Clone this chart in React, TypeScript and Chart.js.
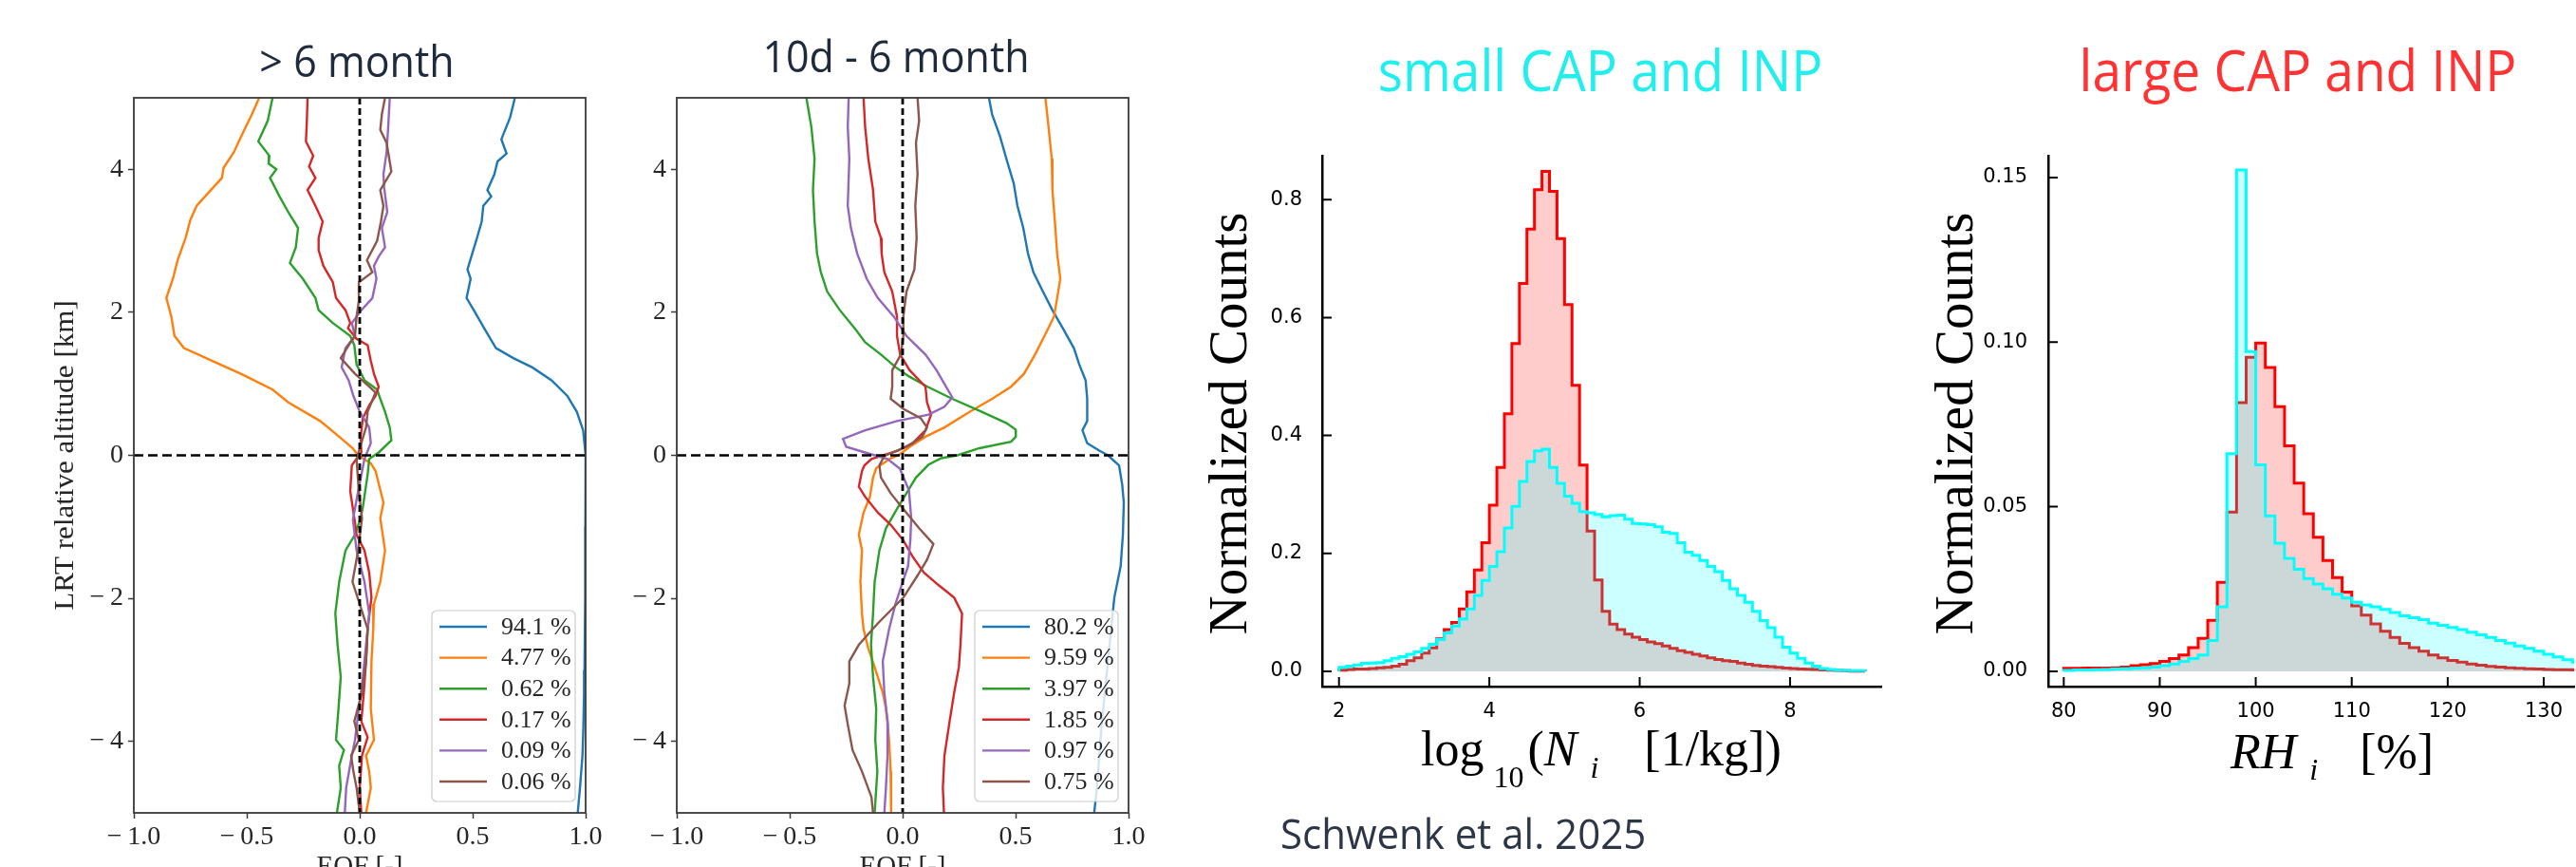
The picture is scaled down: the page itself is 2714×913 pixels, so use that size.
import React, { useEffect, useRef } from "react";
import { Chart, registerables } from "chart.js";

Chart.register(...registerables);

const PAGE_W = 2714;
const PAGE_H = 913;

// ================= DATA =================
// Panel 1 "> 6 month": EOF profiles, pairs [altitude km, EOF value]
const gt6Labels = ["94.1 %", "4.77 %", "0.62 %", "0.17 %", "0.09 %", "0.06 %"];
const gt6Eof1: [number, number][] = [
  [5.0, 0.687], [4.73, 0.666], [4.42, 0.627], [4.22, 0.65], [4.11, 0.61], [3.93, 0.596], [3.71, 0.565],
  [3.62, 0.582], [3.49, 0.547], [3.27, 0.54], [3.04, 0.519], [2.82, 0.498], [2.6, 0.477], [2.47, 0.491],
  [2.2, 0.473], [2.03, 0.505], [1.76, 0.554], [1.5, 0.603], [1.36, 0.68], [1.23, 0.764], [1.05, 0.849],
  [0.83, 0.919], [0.61, 0.961], [0.35, 0.989], [0, 1.0], [-1, 0.999], [-2, 0.998], [-3, 0.995],
  [-3.32, 0.993], [-3.8, 0.99], [-4.2, 0.986], [-4.65, 0.975], [-5, 0.965],
];
const gt6Eof2: [number, number][] = [
  [5.0, -0.445], [4.77, -0.477], [4.5, -0.519], [4.24, -0.557], [4.02, -0.603], [3.88, -0.61], [3.71, -0.659],
  [3.49, -0.722], [3.29, -0.75], [3.04, -0.771], [2.73, -0.806], [2.47, -0.827], [2.2, -0.856], [1.94, -0.834],
  [1.67, -0.82], [1.5, -0.778], [1.32, -0.652], [1.14, -0.526], [0.92, -0.386], [0.74, -0.316], [0.48, -0.175],
  [0.26, -0.091], [0.1, -0.031], [0.0, -0.007], [-0.11, 0.049], [-0.22, 0.07], [-0.66, 0.105], [-0.88, 0.091],
  [-1.33, 0.112], [-1.77, 0.091], [-2.08, 0.063], [-2.43, 0.06], [-2.88, 0.052], [-3.54, 0.049], [-3.98, 0.063],
  [-4.2, 0.028], [-4.42, 0.042], [-4.65, 0.049], [-5.0, 0.028],
];
const gt6Eof3: [number, number][] = [
  [5.0, -0.386], [4.68, -0.407], [4.39, -0.449], [4.19, -0.4], [4.08, -0.403], [4.0, -0.369], [3.88, -0.397],
  [3.62, -0.355], [3.4, -0.316], [3.18, -0.273], [2.91, -0.283], [2.69, -0.309], [2.47, -0.252], [2.2, -0.196],
  [2.03, -0.182], [1.85, -0.119], [1.67, -0.042], [1.54, -0.024], [1.27, -0.014], [1.05, 0.021], [0.92, 0.077],
  [0.79, 0.091], [0.61, 0.112], [0.39, 0.133], [0.21, 0.14], [0.04, 0.084], [-0.05, 0.042], [-0.27, 0.035],
  [-0.72, 0.014], [-0.88, 0.004], [-1.11, -0.021], [-1.33, -0.063], [-1.77, -0.091], [-2.21, -0.108],
  [-2.65, -0.098], [-3.1, -0.084], [-3.54, -0.094], [-3.98, -0.105], [-4.12, -0.07], [-4.34, -0.091],
  [-4.65, -0.084], [-5.0, -0.101],
];
const gt6Eof4: [number, number][] = [
  [5.0, -0.231], [4.68, -0.234], [4.39, -0.238], [4.19, -0.206], [4.04, -0.224], [3.88, -0.196], [3.71, -0.231],
  [3.49, -0.196], [3.27, -0.164], [3.04, -0.182], [2.87, -0.182], [2.65, -0.161], [2.42, -0.119], [2.2, -0.105],
  [2.03, -0.063], [1.85, -0.042], [1.78, -0.052], [1.63, -0.014], [1.54, 0.035], [1.32, 0.049], [1.14, 0.063],
  [0.96, 0.084], [0.83, 0.07], [0.7, 0.042], [0.52, 0.014], [0.26, 0.004], [0.04, 0.007], [-0.14, -0.035],
  [-0.5, -0.042], [-0.94, -0.021], [-1.11, -0.014], [-1.33, 0.021], [-1.64, 0.042], [-1.99, 0.052],
  [-2.43, 0.035], [-2.88, 0.028], [-3.32, 0.018], [-3.72, 0.007], [-3.94, 0.035], [-4.2, 0.01], [-4.65, 0.0],
  [-5.0, 0.007],
];
const gt6Eof5: [number, number][] = [
  [5.0, 0.133], [4.59, 0.126], [4.24, 0.119], [3.93, 0.105], [3.75, 0.108], [3.4, 0.122], [3.18, 0.098],
  [2.91, 0.112], [2.78, 0.084], [2.65, 0.063], [2.47, 0.074], [2.2, 0.056], [2.03, 0.007], [1.85, -0.035],
  [1.67, -0.021], [1.5, -0.063], [1.23, -0.08], [1.05, -0.049], [0.83, -0.028], [0.61, 0.0], [0.39, 0.042],
  [0.17, 0.049], [-0.05, 0.021], [-0.5, -0.007], [-0.9, -0.03], [-1.33, -0.014], [-1.77, 0.021], [-2.21, 0.042],
  [-2.65, 0.028], [-3.1, 0.014], [-3.54, -0.004], [-3.98, -0.021], [-4.2, -0.035], [-4.65, -0.06], [-5.0, -0.066],
];
const gt6Eof6: [number, number][] = [
  [5.0, 0.112], [4.77, 0.098], [4.55, 0.091], [4.37, 0.119], [3.97, 0.14], [3.71, 0.091], [3.49, 0.105],
  [3.27, 0.094], [3.0, 0.077], [2.73, 0.032], [2.56, 0.056], [2.42, -0.004], [2.16, -0.004], [1.94, -0.014],
  [1.67, -0.021], [1.54, -0.049], [1.36, -0.084], [1.14, -0.021], [0.96, 0.042], [0.88, 0.07], [0.61, 0.035],
  [0.39, 0.028], [0.17, 0.007], [-0.05, -0.014], [-0.5, -0.004], [-0.88, 0.01], [-1.33, -0.007], [-1.77, -0.032],
  [-2.08, 0.0], [-2.43, 0.035], [-2.88, 0.028], [-3.32, 0.01], [-3.72, -0.024], [-3.98, -0.004], [-4.2, -0.038],
  [-4.42, -0.028], [-4.65, -0.014], [-5.0, 0.0],
];

// Panel 2 "10d - 6 month": EOF profiles, pairs [altitude km, EOF value]
const midLabels = ["80.2 %", "9.59 %", "3.97 %", "1.85 %", "0.97 %", "0.75 %"];
const midEof1: [number, number][] = [
  [5.0, 0.382], [4.77, 0.396], [4.46, 0.431], [4.15, 0.459], [3.8, 0.492], [3.49, 0.508], [3.18, 0.534],
  [2.82, 0.555], [2.56, 0.579], [2.29, 0.621], [2.03, 0.663], [1.76, 0.712], [1.5, 0.758], [1.27, 0.782],
  [1.05, 0.81], [0.79, 0.817], [0.48, 0.817], [0.35, 0.796], [0.17, 0.817], [0.06, 0.874], [0.0, 0.909],
  [-0.14, 0.958], [-0.41, 0.972], [-0.66, 0.979], [-1.11, 0.975], [-1.55, 0.965], [-1.99, 0.937],
  [-2.43, 0.923], [-2.88, 0.909], [-3.32, 0.895], [-3.76, 0.881], [-4.2, 0.871], [-4.65, 0.86], [-5.0, 0.848],
];
const midEof2: [number, number][] = [
  [5.0, 0.632], [4.59, 0.646], [4.15, 0.66], [3.71, 0.663], [3.27, 0.674], [2.82, 0.684], [2.47, 0.698],
  [2.2, 0.684], [1.94, 0.67], [1.67, 0.628], [1.41, 0.586], [1.14, 0.537], [0.96, 0.48], [0.79, 0.396],
  [0.61, 0.298], [0.39, 0.185], [0.26, 0.101], [0.12, 0.031], [0.0, -0.018], [-0.04, -0.053], [-0.18, -0.117],
  [-0.31, -0.131], [-0.58, -0.145], [-0.8, -0.173], [-1.11, -0.194], [-1.33, -0.18], [-1.77, -0.187],
  [-2.21, -0.18], [-2.43, -0.173], [-2.7, -0.152], [-2.96, -0.124], [-3.32, -0.088], [-3.54, -0.074],
  [-3.98, -0.06], [-4.42, -0.053], [-5.0, -0.051],
];
const midEof3: [number, number][] = [
  [5.0, -0.426], [4.59, -0.404], [4.15, -0.39], [3.71, -0.397], [3.27, -0.39], [2.82, -0.379], [2.56, -0.362],
  [2.29, -0.334], [2.03, -0.278], [1.76, -0.208], [1.58, -0.166], [1.41, -0.096], [1.23, -0.03], [1.1, 0.03],
  [0.96, 0.11], [0.79, 0.22], [0.61, 0.35], [0.45, 0.46], [0.36, 0.5], [0.26, 0.501], [0.19, 0.48], [0.1, 0.34],
  [0.0, 0.242], [-0.04, 0.171], [-0.13, 0.115], [-0.31, 0.059], [-0.53, 0.017], [-0.75, -0.025],
  [-1.02, -0.074], [-1.33, -0.103], [-1.77, -0.124], [-2.21, -0.131], [-2.65, -0.14], [-3.1, -0.131],
  [-3.54, -0.117], [-3.98, -0.121], [-4.42, -0.112], [-5.0, -0.124],
];
const midEof4: [number, number][] = [
  [5.0, -0.173], [4.59, -0.166], [4.15, -0.152], [3.71, -0.131], [3.27, -0.121], [3.04, -0.096], [2.82, -0.093],
  [2.56, -0.081], [2.29, -0.046], [1.94, -0.025], [1.67, -0.025], [1.41, -0.011], [1.19, 0.031], [0.96, 0.101],
  [0.74, 0.108], [0.57, 0.126], [0.35, 0.101], [0.17, 0.045], [0.06, -0.025], [-0.05, -0.138], [-0.14, -0.169],
  [-0.22, -0.18], [-0.44, -0.194], [-0.58, -0.166], [-0.8, -0.11], [-0.97, -0.053], [-1.19, 0.003],
  [-1.42, 0.045], [-1.64, 0.094], [-1.81, 0.157], [-1.99, 0.228], [-2.21, 0.263], [-2.65, 0.256],
  [-2.96, 0.249], [-3.32, 0.228], [-3.76, 0.206], [-4.2, 0.185], [-4.65, 0.178], [-5.0, 0.183],
];
const midEof5: [number, number][] = [
  [5.0, -0.239], [4.59, -0.243], [4.15, -0.236], [3.49, -0.243], [3.18, -0.229], [2.82, -0.201], [2.47, -0.159],
  [2.2, -0.11], [1.94, -0.039], [1.67, 0.017], [1.41, 0.101], [1.19, 0.15], [0.96, 0.192], [0.81, 0.22],
  [0.68, 0.185], [0.57, 0.115], [0.48, -0.025], [0.35, -0.166], [0.23, -0.264], [0.12, -0.25], [0.04, -0.166],
  [-0.05, -0.067], [-0.19, -0.011], [-0.22, -0.008], [-0.49, 0.028], [-0.88, 0.038], [-1.19, 0.034],
  [-1.55, 0.024], [-1.81, -0.004], [-2.08, -0.032], [-2.43, -0.06], [-2.88, -0.088], [-3.32, -0.081],
  [-3.76, -0.065], [-4.2, -0.067], [-4.65, -0.074], [-5.0, -0.081],
];
const midEof6: [number, number][] = [
  [5.0, 0.066], [4.68, 0.073], [4.37, 0.059], [3.93, 0.066], [3.49, 0.056], [3.04, 0.062], [2.6, 0.052],
  [2.29, 0.017], [1.94, 0.003], [1.67, 0.003], [1.41, -0.008], [1.19, -0.046], [0.96, -0.046], [0.79, -0.053],
  [0.65, 0.003], [0.52, 0.08], [0.39, 0.108], [0.26, 0.087], [0.12, 0.017], [-0.01, -0.081], [-0.14, -0.103],
  [-0.31, -0.096], [-0.53, -0.053], [-0.75, 0.003], [-1.02, 0.073], [-1.24, 0.136], [-1.46, 0.108],
  [-1.68, 0.066], [-1.99, 0.003], [-2.35, -0.11], [-2.65, -0.194], [-2.88, -0.236], [-3.19, -0.236],
  [-3.5, -0.257], [-3.76, -0.243], [-4.12, -0.222], [-4.42, -0.18], [-4.78, -0.138], [-5.0, -0.131],
];

const eofColors = ["#1f77b4", "#ff7f0e", "#2ca02c", "#d62728", "#9467bd", "#8c564b"];
const eofXTicks = [-1, -0.5, 0, 0.5, 1];
const eofYTicks = [-4, -2, 0, 2, 4];

// Panel 3: histogram of log10(Ni), bins of 0.1 starting at 2.0
const niBinStart = 2.0;
const niBinWidth = 0.1;
const niSmall = [
  0.007, 0.009, 0.011, 0.0135, 0.014, 0.015, 0.018, 0.022, 0.025, 0.029,
  0.033, 0.039, 0.046, 0.054, 0.065, 0.077, 0.089, 0.106, 0.129, 0.154,
  0.178, 0.203, 0.243, 0.28, 0.322, 0.356, 0.374, 0.377, 0.346, 0.319,
  0.297, 0.285, 0.271, 0.269, 0.266, 0.262, 0.264, 0.265, 0.258, 0.251,
  0.25, 0.249, 0.245, 0.236, 0.234, 0.218, 0.202, 0.197, 0.188, 0.178,
  0.169, 0.154, 0.14, 0.129, 0.117, 0.102, 0.086, 0.074, 0.058, 0.041,
  0.031, 0.022, 0.014, 0.009, 0.005, 0.003, 0.002, 0.0015, 0.001, 0.001,
];
const niLarge = [
  0.002, 0.003, 0.004, 0.004, 0.005, 0.006, 0.007, 0.009, 0.012, 0.018,
  0.023, 0.031, 0.04, 0.055, 0.071, 0.083, 0.106, 0.135, 0.172, 0.218,
  0.282, 0.346, 0.437, 0.556, 0.658, 0.75, 0.817, 0.848, 0.814, 0.734,
  0.622, 0.485, 0.35, 0.238, 0.155, 0.102, 0.08, 0.071, 0.063, 0.058,
  0.054, 0.05, 0.047, 0.043, 0.039, 0.035, 0.032, 0.029, 0.026, 0.023,
  0.02, 0.018, 0.017, 0.014, 0.012, 0.01, 0.009, 0.008, 0.007, 0.0055,
  0.005, 0.004, 0.0035, 0.003, 0.0025, 0.002, 0.0015, 0.001, 0.0005, 0.0003,
];
const niXTicks = [2, 4, 6, 8];
const niYTicks = [0, 0.2, 0.4, 0.6, 0.8];

// Panel 4: histogram of RHi (%), bins of 1 % starting at 80
const rhBinStart = 80;
const rhBinWidth = 1;
const rhSmall = [
  0.0003, 0.0004, 0.0004, 0.0005, 0.0006, 0.0007, 0.0008, 0.0009, 0.0011, 0.0013,
  0.0017, 0.0022, 0.003, 0.0039, 0.005, 0.0094, 0.0196, 0.0661, 0.1523, 0.0971,
  0.0627, 0.0472, 0.0389, 0.0343, 0.031, 0.0282, 0.0265, 0.0251, 0.0234, 0.0223,
  0.021, 0.0202, 0.0196, 0.0188, 0.0179, 0.0169, 0.0163, 0.0157, 0.0146, 0.014,
  0.0133, 0.0127, 0.0119, 0.0111, 0.0103, 0.0094, 0.0086, 0.0077, 0.007, 0.0061,
  0.0052, 0.0044, 0.0035, 0.0028, 0.0022,
];
const rhLarge = [
  0.0009, 0.0009, 0.001, 0.001, 0.001, 0.0011, 0.0013, 0.0017, 0.002, 0.0024,
  0.003, 0.0039, 0.005, 0.0072, 0.01, 0.0155, 0.027, 0.0484, 0.0816, 0.0954,
  0.0997, 0.0923, 0.0804, 0.0685, 0.0572, 0.0479, 0.0407, 0.0337, 0.0285, 0.0241,
  0.0199, 0.0171, 0.0144, 0.0122, 0.0103, 0.0085, 0.0072, 0.0061, 0.005, 0.0041,
  0.0033, 0.0028, 0.0022, 0.0019, 0.0015, 0.0013, 0.0011, 0.0009, 0.0008, 0.0007,
  0.0006, 0.0005, 0.0005, 0.0004, 0.0003,
];
const rhXTicks = [80, 90, 100, 110, 120, 130];
const rhYTicks = [0, 0.05, 0.1, 0.15];

// ================= STYLE / LAYOUT =================
const SERIF = '"Liberation Serif", "Times New Roman", serif';
const SANS = '"Open Sans", "Noto Sans", sans-serif';
const TICK_SANS = '"DejaVu Sans", sans-serif';
const SMALL_COLOR = "#00ffff";
const LARGE_COLOR = "#ff0000";

type Box = { left: number; top: number; right: number; bottom: number };
const AREA_P1: Box = { left: 141, top: 103, right: 617, bottom: 856 };
const AREA_P2: Box = { left: 713, top: 103, right: 1189, bottom: 856 };
const AREA_P3: Box = { left: 1393, top: 164, right: 1982, bottom: 723 };
const AREA_P4: Box = { left: 2158, top: 164, right: 2714, bottom: 723 };
const X_AXIS_H = 40;

const minus = (s: string) => s.replace("-", "\u2212\u2009");
const setTicks = (vals: number[]) => (scale: any) => {
  scale.ticks = vals.map((v) => ({ value: v }));
};

function drawText(
  ctx: CanvasRenderingContext2D, text: string, x: number, y: number, font: string, color: string,
  align: CanvasTextAlign = "center", sx = 1, sy = 1, rot = 0
) {
  ctx.save();
  ctx.translate(x, y);
  if (rot) ctx.rotate(rot);
  ctx.scale(sx, sy);
  ctx.font = font;
  ctx.fillStyle = color;
  ctx.textAlign = align;
  ctx.textBaseline = "alphabetic";
  ctx.fillText(text, 0, 0);
  ctx.restore();
}

type Piece = { text: string; font: string; dy?: number; gap?: number };
function drawPieces(ctx: CanvasRenderingContext2D, x0: number, base: number, pieces: Piece[]) {
  ctx.save();
  ctx.fillStyle = "#000";
  ctx.textAlign = "left";
  ctx.textBaseline = "alphabetic";
  let x = x0;
  for (const p of pieces) {
    x += p.gap || 0;
    ctx.font = p.font;
    ctx.fillText(p.text, x, base + (p.dy || 0));
    x += ctx.measureText(p.text).width;
  }
  ctx.restore();
}

function eofConfig(series: [number, number][][], labels: string[], area: Box, title: string, titleX: number, titleY: number, yLabel: boolean) {
  const tickFont = { family: SERIF, size: 28 };
  const overlay = {
    id: "eofOverlay",
    afterDatasetsDraw(chart: any) {
      const { ctx, chartArea: a, scales } = chart;
      const x0 = scales.x.getPixelForValue(0);
      const y0 = scales.y.getPixelForValue(0);
      ctx.save();
      ctx.strokeStyle = "#000";
      ctx.lineWidth = 2.5;
      ctx.setLineDash([10, 5]);
      ctx.beginPath();
      ctx.moveTo(a.left, y0);
      ctx.lineTo(a.right, y0);
      ctx.stroke();
      ctx.lineWidth = 2.8;
      ctx.setLineDash([7, 4]);
      ctx.beginPath();
      ctx.moveTo(x0, a.top);
      ctx.lineTo(x0, a.bottom);
      ctx.stroke();
      ctx.setLineDash([]);
      // legend
      const bw = 151, bh = 201;
      const bx = a.right - 11 - bw, by = a.bottom - 12 - bh;
      ctx.fillStyle = "rgba(255,255,255,0.8)";
      ctx.strokeStyle = "#cccccc";
      ctx.lineWidth = 1.2;
      ctx.beginPath();
      ctx.roundRect(bx, by, bw, bh, 5);
      ctx.fill();
      ctx.stroke();
      chart.data.datasets.forEach((ds: any, i: number) => {
        const yy = by + 17 + i * 32.6;
        ctx.strokeStyle = ds.borderColor;
        ctx.lineWidth = 2.4;
        ctx.beginPath();
        ctx.moveTo(bx + 8, yy);
        ctx.lineTo(bx + 58, yy);
        ctx.stroke();
        ctx.fillStyle = "#262626";
        ctx.font = `26px ${SERIF}`;
        ctx.textAlign = "left";
        ctx.textBaseline = "middle";
        ctx.fillText(ds.label, bx + 73, yy + 1);
      });
      // frame
      ctx.strokeStyle = "#3a3a3a";
      ctx.lineWidth = 1.8;
      ctx.strokeRect(a.left, a.top, a.right - a.left, a.bottom - a.top);
      ctx.restore();
    },
    afterDraw(chart: any) {
      const { ctx, chartArea: a } = chart;
      drawText(ctx, title, titleX, titleY, `43px ${SANS}`, "#1f2a3c", "center", 1, 1.06);
      if (yLabel) {
        drawText(ctx, "LRT relative altitude [km]", 77, (a.top + a.bottom) / 2, `29px ${SERIF}`, "#262626", "center", 1.07, 1, -Math.PI / 2);
      }
      drawText(ctx, "EOF [-]", (a.left + a.right) / 2, 921, `29px ${SERIF}`, "#262626");
    },
  };
  return {
    type: "line",
    data: {
      datasets: series.map((s, i) => ({
        label: labels[i],
        data: s.map(([alt, v]) => ({ x: v, y: alt })),
        borderColor: eofColors[i],
        backgroundColor: eofColors[i],
        borderWidth: 2.4,
        pointRadius: 0,
        fill: false,
        tension: 0,
        order: series.length - i,
        clip: 0,
      })),
    },
    options: {
      responsive: false,
      animation: false,
      devicePixelRatio: 1,
      events: [],
      layout: { padding: { left: 0, top: area.top, right: PAGE_W - area.right, bottom: PAGE_H - area.bottom - X_AXIS_H } },
      plugins: { legend: { display: false }, tooltip: { enabled: false }, title: { display: false } },
      scales: {
        x: {
          type: "linear", min: -1, max: 1,
          afterBuildTicks: setTicks(eofXTicks),
          afterFit: (s: any) => { s.height = X_AXIS_H; },
          grid: { display: true, drawOnChartArea: false, drawTicks: true, tickLength: 6, tickColor: "#3a3a3a", tickWidth: 1.5 },
          border: { display: false },
          ticks: { font: tickFont, color: "#262626", padding: 3, autoSkip: false, maxRotation: 0, callback: (v: any) => minus(Number(v).toFixed(1)) },
        },
        y: {
          type: "linear", min: -5, max: 5,
          afterBuildTicks: setTicks(eofYTicks),
          afterFit: (s: any) => { s.width = area.left; },
          grid: { display: true, drawOnChartArea: false, drawTicks: true, tickLength: 6, tickColor: "#3a3a3a", tickWidth: 1.5 },
          border: { display: false },
          ticks: { font: tickFont, color: "#262626", padding: 5, autoSkip: false, callback: (v: any) => minus(String(v)) },
        },
      },
    },
    plugins: [overlay],
  };
}

function stepPoints(start: number, width: number, vals: number[]) {
  const pts = [{ x: start, y: 0 }];
  vals.forEach((v, i) => pts.push({ x: start + i * width, y: v }));
  const end = start + vals.length * width;
  pts.push({ x: end, y: vals[vals.length - 1] });
  pts.push({ x: end, y: 0 });
  return pts;
}

function histConfig(
  area: Box, start: number, width: number, small: number[], large: number[],
  xr: [number, number], yr: [number, number], xTicks: number[], yTicks: number[],
  yFmt: (v: number) => string, yPad: number, drawExtra: (ctx: CanvasRenderingContext2D) => void
) {
  const tickFont = { family: TICK_SANS, size: 21 };
  const overlay = {
    id: "histOverlay",
    afterDatasetsDraw(chart: any) {
      const { ctx, chartArea: a, scales } = chart;
      ctx.save();
      ctx.strokeStyle = "#000";
      ctx.lineWidth = 2;
      ctx.beginPath();
      xTicks.forEach((v) => {
        const px = scales.x.getPixelForValue(v);
        ctx.moveTo(px, a.bottom);
        ctx.lineTo(px, a.bottom - 10);
      });
      yTicks.forEach((v) => {
        const py = scales.y.getPixelForValue(v);
        ctx.moveTo(a.left, py);
        ctx.lineTo(a.left + 10, py);
      });
      ctx.stroke();
      ctx.restore();
    },
    afterDraw(chart: any) {
      const { ctx, chartArea: a } = chart;
      drawText(ctx, "Normalized Counts", a.left - 80, 446, `57px ${SERIF}`, "#000", "center", 1, 1, -Math.PI / 2);
      drawExtra(ctx);
    },
  };
  return {
    type: "line",
    data: {
      datasets: [
        {
          label: "small CAP and INP",
          data: stepPoints(start, width, small),
          borderColor: SMALL_COLOR,
          backgroundColor: "rgba(0,255,255,0.2)",
          borderWidth: 3,
          pointRadius: 0,
          stepped: "before",
          fill: "origin",
          clip: 0,
        },
        {
          label: "large CAP and INP",
          data: stepPoints(start, width, large),
          borderColor: LARGE_COLOR,
          backgroundColor: "rgba(255,0,0,0.2)",
          borderWidth: 3,
          pointRadius: 0,
          stepped: "before",
          fill: "origin",
          clip: 0,
        },
      ],
    },
    options: {
      responsive: false,
      animation: false,
      devicePixelRatio: 1,
      events: [],
      layout: { padding: { left: 0, top: area.top, right: PAGE_W - area.right, bottom: PAGE_H - area.bottom - X_AXIS_H } },
      plugins: { legend: { display: false }, tooltip: { enabled: false }, title: { display: false } },
      scales: {
        x: {
          type: "linear", min: xr[0], max: xr[1],
          afterBuildTicks: setTicks(xTicks),
          afterFit: (s: any) => { s.height = X_AXIS_H; },
          grid: { display: false, drawTicks: false },
          border: { display: true, color: "#000", width: 2.5 },
          ticks: { font: tickFont, color: "#000", padding: 14, autoSkip: false, maxRotation: 0, callback: (v: any) => String(v) },
        },
        y: {
          type: "linear", min: yr[0], max: yr[1],
          afterBuildTicks: setTicks(yTicks),
          afterFit: (s: any) => { s.width = area.left; },
          grid: { display: false, drawTicks: false },
          border: { display: true, color: "#000", width: 2.5 },
          ticks: { font: tickFont, color: "#000", padding: yPad, autoSkip: false, callback: (v: any) => yFmt(Number(v)) },
        },
      },
    },
    plugins: [overlay],
  };
}

export default function App() {
  const c1 = useRef<HTMLCanvasElement>(null);
  const c2 = useRef<HTMLCanvasElement>(null);
  const c3 = useRef<HTMLCanvasElement>(null);
  const c4 = useRef<HTMLCanvasElement>(null);

  useEffect(() => {
    const charts: Chart[] = [];
    charts.push(
      new Chart(c1.current as any, eofConfig([gt6Eof1, gt6Eof2, gt6Eof3, gt6Eof4, gt6Eof5, gt6Eof6], gt6Labels, AREA_P1, "> 6 month", 376, 81, true) as any)
    );
    charts.push(
      new Chart(c2.current as any, eofConfig([midEof1, midEof2, midEof3, midEof4, midEof5, midEof6], midLabels, AREA_P2, "10d - 6 month", 944, 76, false) as any)
    );
    charts.push(
      new Chart(
        c3.current as any,
        histConfig(AREA_P3, niBinStart, niBinWidth, niSmall, niLarge, [1.776, 9.213], [-0.0258, 0.8745], niXTicks, niYTicks,
          (v) => v.toFixed(1), 21,
          (ctx) => {
            drawText(ctx, "small CAP and INP", 1686, 96, `55px ${SANS}`, "#22eeee", "center", 1, 1.1);
            drawText(ctx, "Schwenk et al. 2025", 1349, 894, `42px ${SANS}`, "#2d3646", "left", 1, 1.05);
            drawPieces(ctx, 1497, 806, [
              { text: "log", font: `52px ${SERIF}` },
              { text: "10", font: `32px ${SERIF}`, dy: 23, gap: 10 },
              { text: "(", font: `52px ${SERIF}`, gap: 4 },
              { text: "N", font: `italic 52px ${SERIF}` },
              { text: "i", font: `italic 32px ${SERIF}`, dy: 13, gap: 14 },
              { text: "[1/kg])", font: `52px ${SERIF}`, gap: 48 },
            ]);
          }) as any
      )
    );
    charts.push(
      new Chart(
        c4.current as any,
        histConfig(AREA_P4, rhBinStart, rhBinWidth, rhSmall, rhLarge, [78.385, 133.19], [-0.00462, 0.1566], rhXTicks, rhYTicks,
          (v) => v.toFixed(2), 22,
          (ctx) => {
            drawText(ctx, "large CAP and INP", 2421, 96, `55px ${SANS}`, "#ff3333", "center", 1, 1.1);
            drawPieces(ctx, 2350, 809, [
              { text: "RH", font: `italic 52px ${SERIF}` },
              { text: "i", font: `italic 32px ${SERIF}`, dy: 12, gap: 14 },
              { text: "[%]", font: `52px ${SERIF}`, gap: 44 },
            ]);
          }) as any
      )
    );
    return () => charts.forEach((c) => c.destroy());
  }, []);

  const cs: React.CSSProperties = { position: "absolute", left: 0, top: 0, width: PAGE_W, height: PAGE_H };
  return (
    <div style={{ position: "fixed", left: 0, top: 0, width: PAGE_W, height: PAGE_H, background: "#fff", overflow: "hidden" }}>
      <canvas ref={c1} width={PAGE_W} height={PAGE_H} style={cs} />
      <canvas ref={c2} width={PAGE_W} height={PAGE_H} style={cs} />
      <canvas ref={c3} width={PAGE_W} height={PAGE_H} style={cs} />
      <canvas ref={c4} width={PAGE_W} height={PAGE_H} style={cs} />
    </div>
  );
}
